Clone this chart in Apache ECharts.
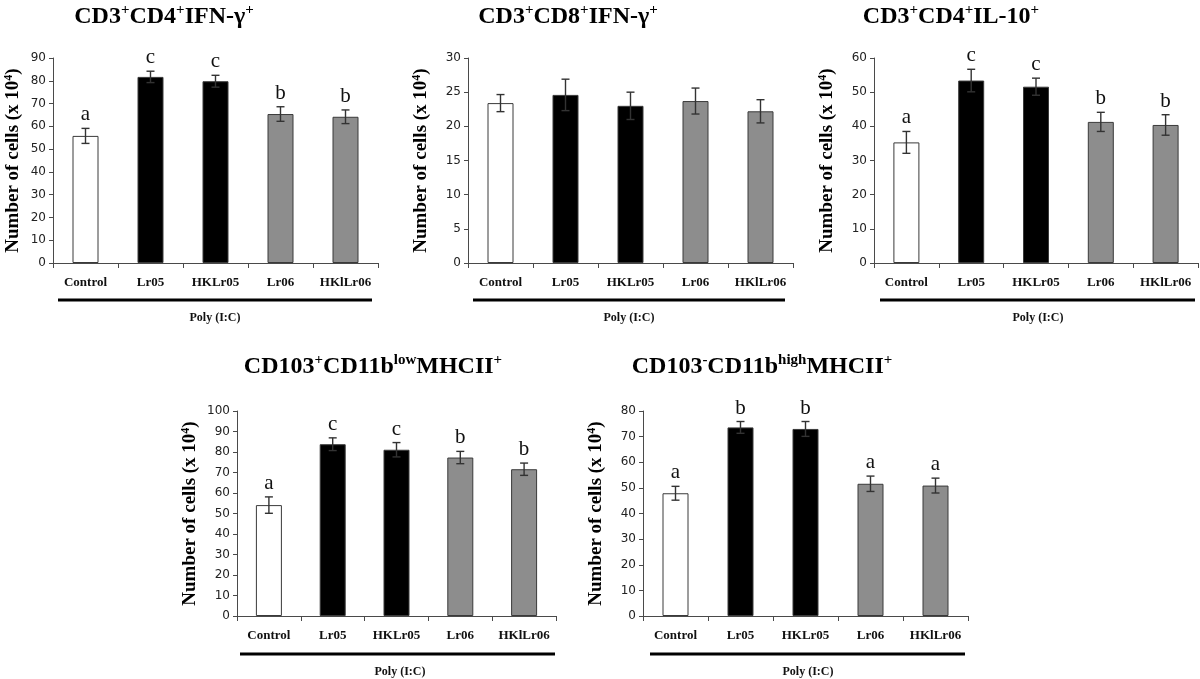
<!DOCTYPE html>
<html>
<head>
<meta charset="utf-8">
<script src="https://cdn.jsdelivr.net/npm/echarts@6/dist/echarts.min.js"></script>
<style>
html,body{margin:0;padding:0;background:#fff;}
#c{width:1200px;height:679px;}
</style>
</head>
<body>
<div id="c"></div>
<script>
// ---------- data ----------
const categories = ['Control', 'Lr05', 'HKLr05', 'Lr06', 'HKlLr06'];

const p1Values = [55.8, 81.7, 79.8, 65.4, 64.2];
const p1Errors = [3.3, 2.5, 2.6, 3.2, 3.0];
const p1Letters = ['a', 'c', 'c', 'b', 'b'];

const p2Values = [23.4, 24.6, 23.0, 23.7, 22.2];
const p2Errors = [1.25, 2.3, 2.0, 1.9, 1.7];
const p2Letters = ['', '', '', '', ''];

const p3Values = [35.3, 53.4, 51.6, 41.3, 40.4];
const p3Errors = [3.2, 3.3, 2.5, 2.8, 3.0];
const p3Letters = ['a', 'c', 'c', 'b', 'b'];

const p4Values = [54.1, 83.8, 81.1, 77.3, 71.6];
const p4Errors = [4.0, 3.1, 3.5, 3.0, 3.0];
const p4Letters = ['a', 'c', 'c', 'b', 'b'];

const p5Values = [47.9, 73.6, 73.0, 51.6, 50.9];
const p5Errors = [2.7, 2.3, 2.9, 3.0, 2.9];
const p5Letters = ['a', 'b', 'b', 'a', 'a'];

const yMaxes = [90, 30, 60, 100, 80];
const yIntervals = [10, 5, 10, 10, 10];

const titles = [
  'CD3{s|+}CD4{s|+}IFN-γ{s|+}',
  'CD3{s|+}CD8{s|+}IFN-γ{s|+}',
  'CD3{s|+}CD4{s|+}IL-10{s|+}',
  'CD103{s|+}CD11b{s|low}MHCII{s|+}',
  'CD103{s|-}CD11b{s|high}MHCII{s|+}'
];
const yAxisName = 'Number of cells (x 10{s|4})';
const groupLabel = 'Poly (I:C)';

const panels = [
  {values: p1Values, errors: p1Errors, letters: p1Letters},
  {values: p2Values, errors: p2Errors, letters: p2Letters},
  {values: p3Values, errors: p3Errors, letters: p3Letters},
  {values: p4Values, errors: p4Errors, letters: p4Letters},
  {values: p5Values, errors: p5Errors, letters: p5Letters}
];

// ---------- layout / style ----------
const SERIF = '"Liberation Serif", "DejaVu Serif", serif';
const SANS = '"DejaVu Sans", "Liberation Sans", sans-serif';
const barColors = ['#ffffff', '#000000', '#000000', '#8d8d8d', '#8d8d8d'];

const grids = [
  {left: 53, top: 58, width: 325, height: 205},
  {left: 468, top: 58, width: 325, height: 205},
  {left: 874, top: 58, width: 324, height: 205},
  {left: 237, top: 411, width: 319, height: 205},
  {left: 643, top: 411, width: 325, height: 205}
];
const nameGaps = [30, 37, 37, 37, 37];
const titlePos = [[159, -2], [563, -2], [946, -2], [368, 348], [757, 348]];
const linePos = [[58, 372, 300], [473, 785, 300], [880, 1195, 300], [240, 555, 654], [650, 965, 654]];
const polyPos = [[215, 318], [629, 318], [1038, 318], [400, 672], [808, 672]];

const chart = echarts.init(document.getElementById('c'));

const option = {
  backgroundColor: '#fff',
  animation: false,
  title: titles.map((t, i) => ({
    text: t,
    left: titlePos[i][0],
    top: titlePos[i][1],
    textAlign: 'center',
    textStyle: {
      fontFamily: SERIF, fontWeight: 'bold', fontSize: 24, color: '#000', lineHeight: 28,
      rich: {s: {fontFamily: SERIF, fontWeight: 'bold', fontSize: 15, verticalAlign: 'top', color: '#000', lineHeight: 28, padding: [0, 0, 9, 0]}}
    }
  })),
  grid: grids.map(g => Object.assign({containLabel: false}, g)),
  xAxis: grids.map((g, i) => ({
    type: 'category',
    gridIndex: i,
    data: categories,
    boundaryGap: true,
    axisLine: {lineStyle: {color: '#4a4a4a', width: 1}},
    axisTick: {show: true, length: 5, lineStyle: {color: '#4a4a4a'}},
    axisLabel: {fontFamily: SERIF, fontWeight: 'bold', fontSize: 13, color: '#111', margin: 13, interval: 0}
  })),
  yAxis: grids.map((g, i) => ({
    type: 'value',
    gridIndex: i,
    min: 0,
    max: yMaxes[i],
    interval: yIntervals[i],
    name: yAxisName,
    nameLocation: 'middle',
    nameGap: nameGaps[i],
    nameRotate: 90,
    nameTextStyle: {
      fontFamily: SERIF, fontWeight: 'bold', fontSize: 19, color: '#000',
      rich: {s: {fontFamily: SERIF, fontWeight: 'bold', fontSize: 12, verticalAlign: 'top', color: '#000', padding: [0, 0, 8, 0]}}
    },
    axisLine: {show: true, lineStyle: {color: '#4a4a4a', width: 1}},
    axisTick: {show: true, length: 4, lineStyle: {color: '#4a4a4a'}},
    axisLabel: {fontFamily: SANS, fontSize: 12, color: '#222', margin: 7},
    splitLine: {show: false}
  })),
  series: [],
  graphic: []
};

panels.forEach((p, i) => {
  option.series.push({
    type: 'bar',
    xAxisIndex: i,
    yAxisIndex: i,
    barWidth: 26,
    data: p.values.map((v, k) => ({
      value: v,
      itemStyle: {color: barColors[k], borderColor: '#3a3a3a', borderWidth: 1}
    })),
    z: 2
  });
  option.series.push({
    type: 'custom',
    xAxisIndex: i,
    yAxisIndex: i,
    z: 5,
    clip: false,
    data: p.values.map((v, k) => [k, v, p.errors[k]]),
    renderItem: function (params, api) {
      const x = api.value(0), m = api.value(1), e = api.value(2);
      const top = api.coord([x, m + e]);
      const bot = api.coord([x, m - e]);
      const cw = 4;
      const st = {stroke: '#333', lineWidth: 1.4};
      const children = [
        {type: 'line', shape: {x1: top[0], y1: top[1], x2: bot[0], y2: bot[1]}, style: st},
        {type: 'line', shape: {x1: top[0] - cw, y1: top[1], x2: top[0] + cw, y2: top[1]}, style: st},
        {type: 'line', shape: {x1: bot[0] - cw, y1: bot[1], x2: bot[0] + cw, y2: bot[1]}, style: st}
      ];
      const letter = p.letters[params.dataIndex];
      if (letter) {
        children.push({
          type: 'text',
          style: {
            text: letter, x: top[0], y: top[1] - 3,
            textAlign: 'center', textVerticalAlign: 'bottom',
            font: '21px ' + SERIF, fill: '#111'
          }
        });
      }
      return {type: 'group', children: children};
    }
  });
  option.graphic.push({
    type: 'line',
    shape: {x1: linePos[i][0], y1: linePos[i][2], x2: linePos[i][1], y2: linePos[i][2]},
    style: {stroke: '#000', lineWidth: 3}
  });
  option.graphic.push({
    type: 'text',
    x: polyPos[i][0],
    y: polyPos[i][1],
    style: {
      text: groupLabel, textAlign: 'center', textVerticalAlign: 'middle',
      font: 'bold 12px ' + SERIF, fill: '#111'
    }
  });
});

chart.setOption(option);
</script>
</body>
</html>
